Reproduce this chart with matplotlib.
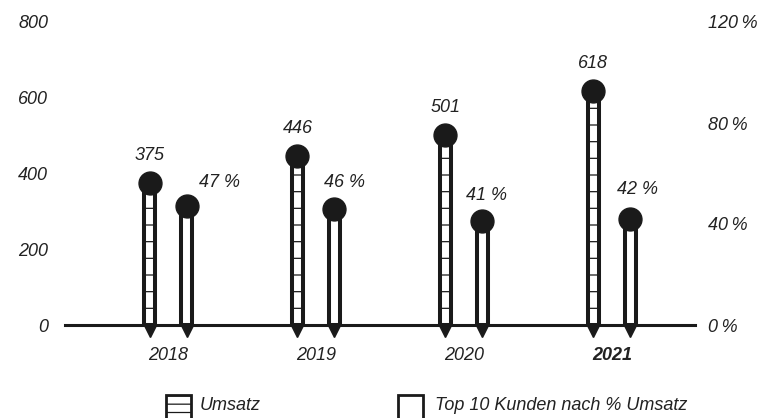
import numpy as np
import matplotlib.pyplot as plt
from matplotlib.patches import Rectangle
from matplotlib.transforms import offset_copy

plt.rcParams['font.family'] = ['Liberation Sans', 'DejaVu Sans']
plt.rcParams['font.style'] = 'italic'
plt.rcParams['font.size'] = 13
plt.rcParams['hatch.linewidth'] = 0.9

years = ['2018', '2019', '2020', '2021']
umsatz = [375, 446, 501, 618]
top10_pct = [47, 46, 41, 42]
left_ticks = [0, 200, 400, 600, 800]
right_ticks = [0, 40, 80, 120]

# label nudges (points) for the percent labels
pct_dx = [24, 7, 3, 5]
pct_dy = [17, 19, 19, 21]

W, H = 776, 418
fig = plt.figure(figsize=(W / 100, H / 100), dpi=100)
ax = fig.add_axes([65 / W, (H - 325) / H, 630 / W, 303 / H])
ax2 = ax.twinx()

x = np.arange(len(years))
off = 0.125
bw = 0.08

ax.set_xlim(-0.696, 3.561)
ax.set_ylim(0, 800)
ax2.set_ylim(0, 120)

ax.bar(x - off, umsatz, width=bw, facecolor='white', edgecolor='#1a1a1a',
       linewidth=2.9, hatch='-', zorder=2)
ax2.bar(x + off, top10_pct, width=bw, facecolor='white', edgecolor='#1a1a1a',
        linewidth=2.9, zorder=2)

ax.plot(x - off, umsatz, 'o', color='#1a1a1a', ms=16.5, zorder=4, clip_on=False)
ax2.plot(x + off, top10_pct, 'o', color='#1a1a1a', ms=16.5, zorder=4, clip_on=False)

tri = offset_copy(ax.transData, fig=fig, y=-4, units='points')
ax.plot(np.r_[x - off, x + off], np.zeros(8), 'v', color='#1a1a1a', ms=8.5,
        transform=tri, clip_on=False, zorder=5)

for xi, v in zip(x, umsatz):
    ax.annotate(str(v), (xi - off, v), xytext=(0, 20), textcoords='offset points',
                ha='center', va='center', fontsize=13, color='#222222')
for xi, p, dx, dy in zip(x, top10_pct, pct_dx, pct_dy):
    ax2.annotate(f'{p} %', (xi + off, p), xytext=(dx, dy), textcoords='offset points',
                 ha='center', va='center', fontsize=13, color='#222222')

for a in (ax, ax2):
    for s in ('top', 'left', 'right'):
        a.spines[s].set_visible(False)
ax2.spines['bottom'].set_visible(False)
ax.spines['bottom'].set_linewidth(2.2)
ax.spines['bottom'].set_color('#1a1a1a')
ax.spines['bottom'].set_zorder(3)

ax.set_xticks(x)
ax.set_xticklabels(years)
ax.get_xticklabels()[-1].set_fontweight('bold')
ax.tick_params(axis='x', length=0, pad=16, labelsize=13, labelcolor='#222222')

ax.set_yticks(left_ticks)
ax.set_yticklabels([str(t) for t in left_ticks])
ax.tick_params(axis='y', length=0, pad=12, labelsize=13, labelcolor='#222222')
ax2.set_yticks(right_ticks)
ax2.set_yticklabels([f'{t}\u2009%' for t in right_ticks])
ax2.tick_params(axis='y', length=0, pad=9.5, labelsize=13, labelcolor='#222222')

# legend drawn by hand, it runs off the bottom edge like the original
legend_items = [('Umsatz', '--', 166.3, 200), ('Top 10 Kunden nach % Umsatz', None, 398.3, 435)]
for label, hatch, bx, tx in legend_items:
    fig.add_artist(Rectangle((bx / W, (H - 425) / H), 24.4 / W, 30 / H,
                             transform=fig.transFigure, facecolor='white',
                             edgecolor='#1a1a1a', linewidth=2.0, hatch=hatch))
    fig.text(tx / W, (H - 406) / H, label, ha='left', va='center',
             fontsize=13, color='#222222')

fig.savefig('out.png', dpi=100)
